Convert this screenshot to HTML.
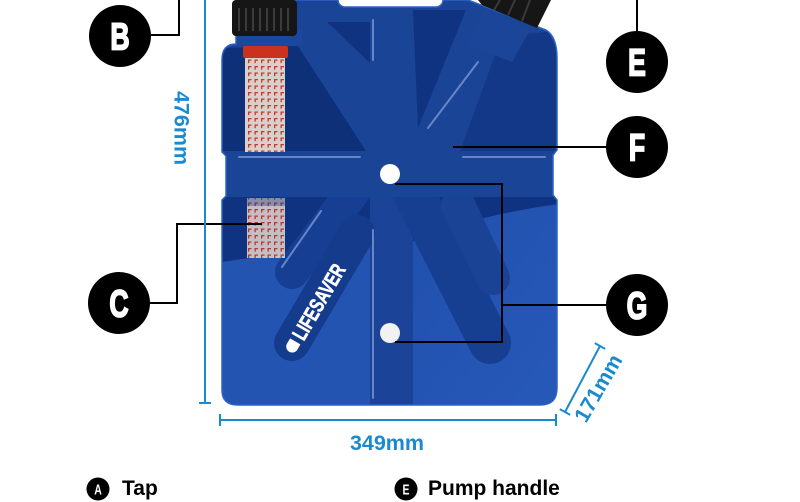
<!DOCTYPE html>
<html><head><meta charset="utf-8"><style>
html,body{margin:0;padding:0;background:#fff;}
svg{display:block;}
text{font-family:"Liberation Sans",Arial,sans-serif;font-weight:bold;}
</style></head><body>
<svg width="800" height="502" viewBox="0 0 800 502" xmlns="http://www.w3.org/2000/svg">
<defs>
<clipPath id="bodyclip">
<path d="M222,60 Q222,44 236,44 L236,0 L468,0 L546,30 Q557,37 557,58 L557,150 L553,155 L553,195 L557,200 L557,388 Q557,405 540,405 L238,405 Q222,405 222,390 L222,200 L226,196 L226,156 L222,152 Z"/>
</clipPath>
<pattern id="mesh" width="6.5" height="6.5" patternUnits="userSpaceOnUse">
<rect width="6.5" height="6.5" fill="#d9cfcb"/>
<path d="M1,1 h3.5 v1.3 h-2.2 v2.3 h-1.3z" fill="#c23a2c"/>
</pattern>
<linearGradient id="lightR" x1="0" y1="0" x2="1" y2="1">
<stop offset="0" stop-color="#2150ad"/><stop offset="1" stop-color="#2759b9"/>
</linearGradient>
</defs>

<!-- body -->
<path d="M222,60 Q222,44 236,44 L236,0 L468,0 L546,30 Q557,37 557,58 L557,150 L553,155 L553,195 L557,200 L557,388 Q557,405 540,405 L238,405 Q222,405 222,390 L222,200 L226,196 L226,156 L222,152 Z" fill="#1a4496"/>
<g clip-path="url(#bodyclip)">
  <rect x="222" y="197" width="150" height="70" fill="#0f3380"/>
  <path d="M222,262 Q300,250 372,246 L372,410 L222,410 Z" fill="#2454b2"/>
  <rect x="411" y="197" width="150" height="70" fill="#0f3380"/>
  <path d="M411,242 Q480,214 560,204 L560,410 L411,410 Z" fill="url(#lightR)"/>
  <rect x="370" y="197" width="43" height="215" fill="#1b4499"/>
  <line x1="358" y1="185" x2="292" y2="272" stroke="#163e92" stroke-width="34" stroke-linecap="round"/>
  <line x1="357" y1="233" x2="292" y2="343" stroke="#153b8c" stroke-width="36" stroke-linecap="round"/>
  <line x1="412" y1="190" x2="490" y2="343" stroke="#173f91" stroke-width="42" stroke-linecap="round"/>
  <line x1="458" y1="205" x2="493" y2="278" stroke="#1a4395" stroke-width="34" stroke-linecap="round"/>
  <rect x="220" y="152" width="340" height="45" fill="#1a4496"/>
  <polygon points="222,48 298,46 366,151 222,151" fill="#0e3079"/>
  <polygon points="327,22 370,22 370,63" fill="#0f3380"/>
  <polygon points="413,10 466,10 418,128" fill="#0f3380"/>
  <polygon points="502,36 548,32 560,55 560,151 460,151" fill="#133888"/>
  <polygon points="484,10 530,30 512,62 466,44" fill="#1b4598"/>
  <rect x="232" y="30" width="70" height="16" fill="#1c479f"/>
</g>
<path d="M222,60 Q222,44 236,44 L236,0 L468,0 L546,30 Q557,37 557,58 L557,150 L553,155 L553,195 L557,200 L557,388 Q557,405 540,405 L238,405 Q222,405 222,390 L222,200 L226,196 L226,156 L222,152 Z" fill="none" stroke="#2c62c8" stroke-width="1.5"/>

<g stroke="#7592d2" stroke-width="2" stroke-linecap="round" opacity="0.85">
  <line x1="239" y1="157" x2="360" y2="157"/>
  <line x1="463" y1="157" x2="545" y2="157"/>
  <line x1="373" y1="20" x2="373" y2="60"/>
  <line x1="373" y1="230" x2="373" y2="398"/>
  <line x1="478" y1="62" x2="428" y2="128"/>
  <line x1="321" y1="211" x2="282" y2="267"/>
</g>

<rect x="245" y="57" width="40" height="95" fill="url(#mesh)"/>
<rect x="243" y="46" width="45" height="12" rx="2" fill="#c8321e"/>
<rect x="247" y="198" width="38" height="60" fill="url(#mesh)" opacity="0.9"/>
<rect x="247" y="198" width="38" height="8" fill="#0f3380" opacity="0.35"/>

<rect x="232" y="0" width="65" height="36" rx="4" fill="#161616"/>
<g stroke="#3c3c3c" stroke-width="2">
  <line x1="239" y1="8" x2="239" y2="31"/><line x1="246" y1="8" x2="246" y2="31"/>
  <line x1="253" y1="8" x2="253" y2="31"/><line x1="260" y1="8" x2="260" y2="31"/>
  <line x1="267" y1="8" x2="267" y2="31"/><line x1="274" y1="8" x2="274" y2="31"/>
  <line x1="281" y1="8" x2="281" y2="31"/><line x1="288" y1="8" x2="288" y2="31"/>
</g>
<polygon points="478,0 551,0 537,28 482,5" fill="#161616"/>
<g stroke="#3a3a3a" stroke-width="2">
  <line x1="500" y1="0" x2="494" y2="10"/><line x1="515" y1="0" x2="508" y2="15"/>
  <line x1="530" y1="0" x2="522" y2="21"/>
</g>

<rect x="338" y="-12" width="105" height="19" rx="7" fill="#fff" stroke="#2c62c8" stroke-width="1.5"/>

<circle cx="390" cy="174" r="10" fill="#fff"/>
<circle cx="390" cy="333" r="10" fill="#f2f2f2"/>

<g transform="translate(316,306) rotate(-59.6)">
  <path d="M-47,-6 L-41,-6 L-41,6 L-47,6 A6,6 0 0 1 -47,-6 Z" fill="#fff"/>
  <text x="-37" y="7.5" font-size="21" fill="#fff" stroke="#fff" stroke-width="0.6" textLength="84" lengthAdjust="spacingAndGlyphs">LIFESAVER</text>
</g>

<g fill="none" stroke="#000" stroke-width="2">
  <polyline points="151,35 179,35 179,0"/>
  <line x1="637" y1="31" x2="637" y2="0"/>
  <line x1="453" y1="147" x2="606" y2="147"/>
  <polyline points="150,303 177,303 177,224 262,224"/>
  <polyline points="395,184 502,184 502,342 395,342"/>
  <line x1="502" y1="305" x2="606" y2="305"/>
</g>

<g fill="#000">
  <circle cx="120" cy="36" r="31"/>
  <circle cx="119" cy="303" r="31"/>
  <circle cx="637" cy="62" r="31"/>
  <circle cx="637" cy="147" r="31"/>
  <circle cx="637" cy="305" r="31"/>
</g>
<g fill="#fff" stroke="#fff" stroke-width="1.8" font-size="38" text-anchor="middle">
  <g transform="translate(120,36) scale(0.7,1)"><text x="0" y="13.5">B</text></g>
  <g transform="translate(119,303) scale(0.7,1)"><text x="0" y="13.5">C</text></g>
  <g transform="translate(637,62) scale(0.7,1)"><text x="0" y="13.5">E</text></g>
  <g transform="translate(637,147) scale(0.7,1)"><text x="0" y="13.5">F</text></g>
  <g transform="translate(637,305) scale(0.7,1)"><text x="0" y="13.5">G</text></g>
</g>

<g stroke="#1a8ad0" stroke-width="2" fill="none">
  <line x1="205" y1="0" x2="205" y2="403"/>
  <line x1="199" y1="403" x2="211" y2="403"/>
  <line x1="220" y1="420" x2="556" y2="420"/>
  <line x1="220" y1="414" x2="220" y2="426"/>
  <line x1="556" y1="414" x2="556" y2="426"/>
  <line x1="565" y1="412" x2="600" y2="346"/>
  <line x1="559.8" y1="409.1" x2="570.2" y2="414.9"/>
  <line x1="594.8" y1="343.1" x2="605.2" y2="348.9"/>
</g>
<g fill="#1a8ad0" font-size="21.5" text-anchor="middle">
  <g transform="translate(182,128) rotate(90)"><text x="0" y="7.5">476mm</text></g>
  <text x="387" y="450">349mm</text>
  <g transform="translate(598,388) rotate(-60)"><text x="0" y="7.5">171mm</text></g>
</g>

<circle cx="98" cy="489" r="11.5" fill="#000"/>
<g transform="translate(98,489) scale(0.7,1)"><text x="0" y="5.5" font-size="15" fill="#fff" text-anchor="middle">A</text></g>
<text x="122" y="495" font-size="21" fill="#000">Tap</text>
<circle cx="406" cy="489" r="11.5" fill="#000"/>
<g transform="translate(406,489) scale(0.7,1)"><text x="0" y="5.5" font-size="15" fill="#fff" text-anchor="middle">E</text></g>
<text x="428" y="495" font-size="21" fill="#000">Pump handle</text>
</svg>
</body></html>
